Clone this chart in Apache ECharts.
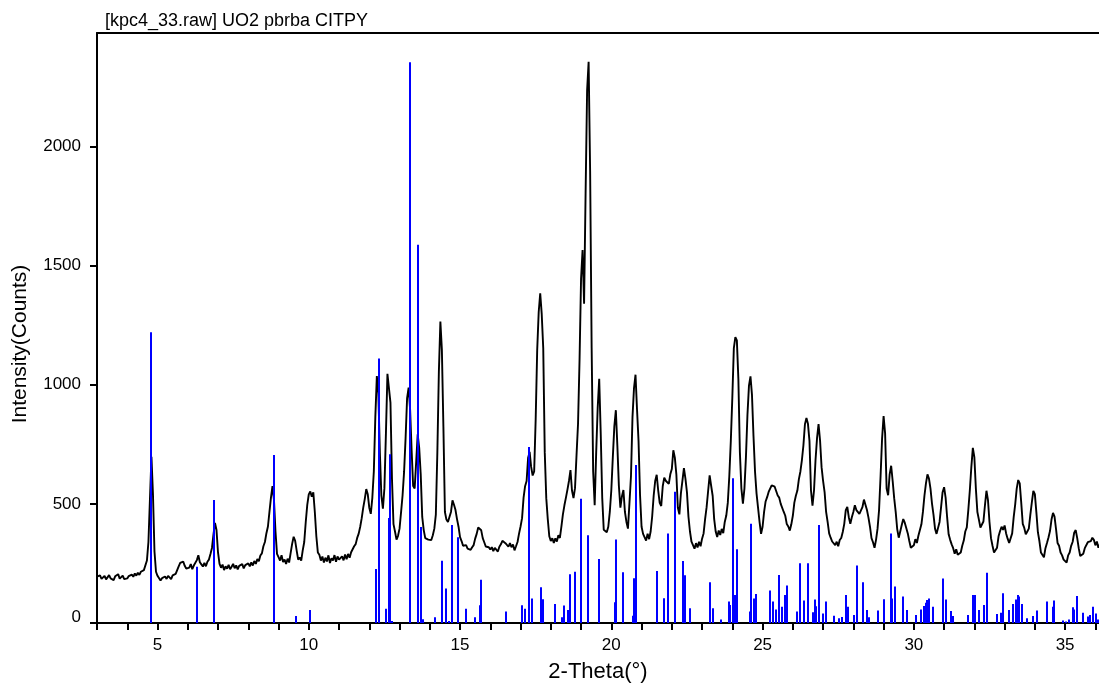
<!DOCTYPE html>
<html>
<head>
<meta charset="utf-8">
<script src="https://cdn.jsdelivr.net/npm/echarts@6/dist/echarts.min.js"></script>
<style>
  html, body { margin: 0; padding: 0; background: #ffffff; }
  #chart { width: 1099px; height: 686px; }
</style>
</head>
<body>
<div id="chart"></div>
<script>
// Scan: [kpc4_33.raw] UO2 pbrba CITPY, counts on a regular 2-theta grid
const TITLE = '[kpc4_33.raw] UO2 pbrba CITPY';
const X_NAME = '2-Theta(°)';
const Y_NAME = 'Intensity(Counts)';
const X_START = 3.0;
const X_STEP = 0.05;

const intensity = [
  195,188,200,185,192,198,183,190,201,187,194,180,196,189,205,186,193,199,184,191,187,
  197,189,203,194,208,199,211,202,215,208,222,230,262,340,520,698,540,300,215,198,
  192,178,188,183,195,185,198,190,184,200,193,206,212,238,252,246,258,240,228,235,
  232,247,226,241,233,264,284,255,246,237,252,238,257,266,290,315,372,420,390,296,
  248,232,245,222,238,228,244,226,236,248,230,242,225,240,233,247,229,243,236,250,
  238,254,241,260,248,268,259,283,292,322,340,377,405,466,526,574,516,384,290,276,
  262,284,256,266,248,270,254,293,332,362,345,304,266,275,262,305,340,424,496,540,
  552,530,548,466,364,296,286,262,279,254,274,258,284,252,272,262,285,257,279,266,
  260,280,263,287,268,290,274,297,296,322,331,357,375,404,440,484,520,562,540,484,
  458,524,636,865,1036,965,714,534,480,566,795,1046,1052,925,605,415,384,350,366,396,
  464,535,634,776,944,988,895,724,575,565,676,792,735,625,445,390,356,352,350,344,
  348,368,396,455,716,1054,1265,1145,824,466,434,424,445,466,515,496,474,436,404,360,
  344,324,321,327,312,320,307,318,327,354,374,401,396,389,356,339,321,315,318,308,
  318,302,315,308,300,320,330,345,350,335,342,320,335,318,330,305,322,340,375,405,440,
  526,574,596,694,718,655,619,636,855,1145,1305,1384,1296,1154,716,524,436,364,344,356,
  336,355,342,368,357,404,456,494,526,560,596,642,556,524,566,704,836,1104,1446,1565,
  1340,1804,2236,2355,1896,1154,636,494,716,904,1025,796,524,391,394,381,404,466,557,696,
  825,893,744,576,484,531,558,466,424,396,504,616,864,986,1042,896,764,536,404,374,
  368,346,375,352,384,446,534,596,622,556,504,491,574,610,597,594,584,624,646,725,
  694,624,484,456,544,596,650,606,549,446,384,341,334,312,335,317,341,322,354,376,
  436,486,554,620,576,534,436,384,361,388,369,395,377,424,451,504,616,764,946,1154,
  1200,1186,1024,716,564,501,564,696,874,996,1035,956,784,636,544,484,424,374,404,466,
  510,528,550,556,578,585,572,566,535,526,500,492,466,450,415,405,388,414,450,505,
  534,556,604,636,684,746,834,860,836,764,556,492,556,684,776,835,766,654,596,549,
  466,424,376,358,342,341,327,341,322,348,357,382,416,474,487,444,416,444,466,494,474,
  474,458,464,486,518,496,474,442,404,356,339,316,349,396,474,616,774,868,796,564,
  536,624,660,596,524,466,394,358,384,411,436,421,422,376,344,316,310,326,352,336,
  366,371,414,466,534,586,624,606,564,501,454,396,374,376,424,486,549,570,526,444,
  372,349,330,314,291,309,286,289,296,324,346,384,401,474,556,654,735,696,564,466,
  434,401,408,426,494,555,516,424,356,324,296,296,316,364,386,404,391,409,376,354,
  336,338,376,444,498,564,600,586,504,416,399,372,384,396,454,506,554,541,464,381,
  344,296,289,276,314,336,359,386,434,462,446,394,336,324,296,284,266,266,254,284,
  296,324,341,379,390,356,314,281,282,291,314,316,339,346,344,358,349,326,342,316,
  330,345,318,325
];

// Reference pattern stick positions (2-theta) and heights
const stickPos = [
  4.79, 6.31, 6.88, 8.85, 9.59, 10.05, 12.23, 12.32, 12.55, 12.64, 12.69, 12.75,
  13.33, 13.61, 13.72, 13.78, 14.17, 14.40, 14.55, 14.64, 14.74, 14.92, 15.19, 15.48,
  15.65, 15.68, 16.52, 17.06, 17.15, 17.29, 17.38, 17.67, 17.74, 18.15, 18.38, 18.43,
  18.58, 18.64, 18.80, 19.00, 19.23, 19.59, 20.12, 20.16, 20.37, 20.71, 20.76, 20.82,
  21.51, 21.74, 21.86, 22.09, 22.38, 22.43, 22.59, 23.26, 23.35, 23.62, 23.88, 23.93,
  24.03, 24.09, 24.17, 24.57, 24.63, 24.70, 24.78, 25.25, 25.36, 25.45, 25.53, 25.63,
  25.74, 25.82, 26.13, 26.25, 26.38, 26.49, 26.66, 26.72, 26.77, 26.88, 26.99, 27.10,
  27.37, 27.53, 27.64, 27.76, 27.82, 28.02, 28.11, 28.31, 28.46, 28.53, 28.81, 29.01,
  29.24, 29.29, 29.39, 29.63, 29.76, 30.07, 30.22, 30.33, 30.40, 30.44, 30.51, 30.62,
  30.96, 31.06, 31.22, 31.31, 31.80, 31.97, 32.02, 32.16, 32.31, 32.41, 32.75, 32.87,
  32.95, 33.15, 33.29, 33.38, 33.45, 33.49, 33.57, 33.73, 33.95, 34.06, 34.39, 34.59,
  34.64, 34.92, 35.03, 35.13, 35.25, 35.30, 35.38, 35.59, 35.76, 35.81, 35.92, 36.01,
  36.09
];
const stickHeight = [
  1220, 236, 516, 705, 29, 55, 227, 1110, 60, 441, 708, 8,
  2353, 1587, 403, 16, 24, 261, 145, 8, 411, 360, 60, 24,
  75, 182, 48, 74, 60, 739, 103, 150, 100, 80, 24, 73,
  55, 205, 215, 521, 368, 269, 87, 350, 213, 30, 188, 663,
  218, 104, 376, 551, 260, 200, 62, 171, 62, 15, 90, 76,
  607, 118, 309, 48, 416, 103, 122, 136, 90, 57, 201, 68,
  118, 157, 48, 251, 94, 251, 45, 99, 70, 411, 40, 90,
  30, 20, 25, 118, 68, 34, 241, 171, 55, 24, 52, 100,
  376, 103, 153, 111, 55, 34, 57, 71, 85, 97, 103, 68,
  187, 99, 50, 29, 34, 118, 118, 55, 76, 211, 38, 43,
  125, 55, 80, 99, 118, 111, 80, 20, 29, 52, 90, 68,
  94, 10, 6, 15, 66, 57, 113, 43, 27, 34, 68, 40,
  15
];

const xTicks = [3,4,5,6,7,8,9,10,11,12,13,14,15,16,17,18,19,20,21,22,23,24,25,26,27,28,29,30,31,32,33,34,35,36];
const xLabels = [5, 10, 15, 20, 25, 30, 35];
const yTicks = [0, 500, 1000, 1500, 2000];

const scan = intensity.map((v, i) => [X_START + i * X_STEP, v]);
const sticks = stickPos.map((p, i) => [p, stickHeight[i]]);

const FONT = '"Liberation Sans", Arial, sans-serif';
const X_MIN = 3, X_MAX = 36.12, Y_MIN = 0, Y_MAX = 2476;

const chart = echarts.init(document.getElementById('chart'), null, { renderer: 'canvas' });
chart.setOption({
  backgroundColor: '#ffffff',
  animation: false,
  title: {
    text: TITLE,
    left: 100, top: 7,
    textStyle: { fontFamily: FONT, fontSize: 18, fontWeight: 'normal', color: '#000' }
  },
  grid: { left: 97, right: 0, top: 33, bottom: 63, outerBoundsMode: 'none', containLabel: false },
  xAxis: [{
    type: 'value', min: X_MIN, max: X_MAX,
    name: X_NAME, nameLocation: 'middle', nameGap: 38,
    nameTextStyle: { fontFamily: FONT, fontSize: 22, color: '#000' },
    axisLine: { show: true, onZero: false, lineStyle: { color: '#000', width: 2 } },
    axisTick: { show: true, customValues: xTicks, length: 7, lineStyle: { color: '#000', width: 2 } },
    axisLabel: { customValues: xLabels, margin: 14, fontFamily: FONT, fontSize: 17, color: '#000' },
    splitLine: { show: false }
  }, {
    type: 'value', position: 'top', min: X_MIN, max: X_MAX,
    axisLine: { show: true, onZero: false, lineStyle: { color: '#000', width: 2 } },
    axisTick: { show: false }, axisLabel: { show: false }, splitLine: { show: false }
  }],
  yAxis: {
    type: 'value', min: Y_MIN, max: Y_MAX,
    axisLine: { show: true, onZero: false, lineStyle: { color: '#000', width: 2 } },
    axisTick: { show: true, customValues: yTicks, length: 7, lineStyle: { color: '#000', width: 2 } },
    axisLabel: {
      customValues: yTicks, margin: 16, fontFamily: FONT, fontSize: 17, color: '#000',
      formatter: v => (v === 0 ? '{z|0}' : String(v)),
      rich: { z: { fontFamily: FONT, fontSize: 17, color: '#000', padding: [0, 0, 12, 0] } }
    },
    splitLine: { show: false }
  },
  graphic: [{
    type: 'text',
    x: 20, y: 344,
    rotation: Math.PI / 2,
    style: {
      text: Y_NAME, fontFamily: FONT, fontSize: 21, fill: '#000',
      align: 'center', verticalAlign: 'middle'
    }
  }],
  series: [{
    type: 'line',
    data: scan,
    showSymbol: false,
    clip: true,
    lineStyle: { color: '#000', width: 1.9 },
    z: 2
  }, {
    type: 'custom',
    data: sticks,
    clip: true,
    encode: { x: 0, y: 1 },
    renderItem: (params, api) => {
      const top = api.coord([api.value(0), api.value(1)]);
      const base = api.coord([api.value(0), 0]);
      const x = Math.round(top[0]);
      return {
        type: 'line',
        shape: { x1: x, y1: base[1], x2: x, y2: top[1] },
        style: { stroke: '#0000ff', lineWidth: 2 }
      };
    },
    z: 3
  }]
});
</script>
</body>
</html>
